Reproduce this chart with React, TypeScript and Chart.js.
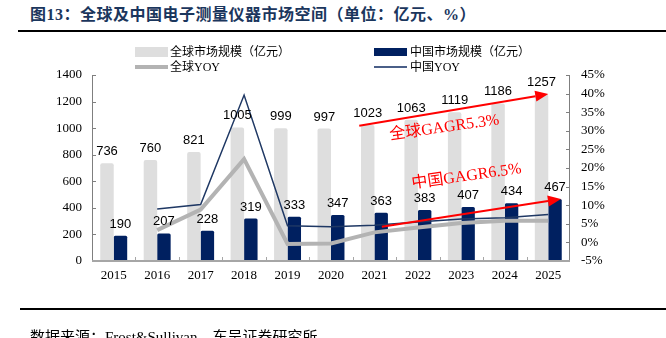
import React, { useEffect, useRef } from "react";
import { Chart, registerables } from "chart.js";

Chart.register(...registerables);

// ---------- data ----------
const years = ["2015", "2016", "2017", "2018", "2019", "2020", "2021", "2022", "2023", "2024", "2025"];
const globalMarket = [736, 760, 821, 1005, 999, 997, 1023, 1063, 1119, 1186, 1257];
const chinaMarket = [190, 207, 228, 319, 333, 347, 363, 383, 407, 434, 467];
const globalYoy = [null, 3.3, 8.8, 22.4, -0.4, -0.3, 2.7, 4.0, 5.2, 5.8, 5.8];
const chinaYoy = [null, 9.0, 10.2, 39.6, 4.5, 4.2, 4.6, 5.5, 6.3, 6.6, 7.5];
const leftTicks = { min: 0, max: 1400, step: 200 };
const rightTicks = { min: -5, max: 45, step: 5 };

// annotation arrows (category index, left-axis value)
const gagrArrows = [
  { x0: 5.65, y0: 1018, x1: 10.0, y1: 1257 },
  { x0: 6.17, y0: 258, x1: 10.29, y1: 467 },
];
const gagrLabels = [
  { text: "全球GAGR5.3%", x: 7.61, y: 1003, angle: -8 },
  { text: "中国GAGR6.5%", x: 8.12, y: 636, angle: -8 },
];

const TITLE = "图13：全球及中国电子测量仪器市场空间（单位：亿元、%）";
const SOURCE = "数据来源：Frost&Sullivan，东吴证券研究所";
const LEGEND = ["全球市场规模（亿元）", "中国市场规模（亿元）", "全球YOY", "中国YOY"];

const GRAY_BAR = "#dedede";
const NAVY_BAR = "#002060";
const GRAY_LINE = "#b3b3b3";
const NAVY_LINE = "#1f3864";

const serif = '"Liberation Serif", "Noto Sans CJK SC", serif';

const decorPlugin = {
  id: "decor",
  afterDatasetsDraw(chart: any) {
    const { ctx, chartArea, scales } = chart;
    const { left, right, top, bottom } = chartArea;
    ctx.save();
    const line = (x0: number, y0: number, x1: number, y1: number) => {
      ctx.beginPath();
      ctx.moveTo(x0, y0);
      ctx.lineTo(x1, y1);
      ctx.stroke();
    };
    // vertical axes
    ctx.strokeStyle = "#7f7f7f";
    ctx.lineWidth = 1;
    line(left + 0.5, top, left + 0.5, bottom);
    line(right - 0.5, top, right - 0.5, bottom);
    const ys = scales.y;
    for (let v = leftTicks.min; v <= leftTicks.max; v += leftTicks.step) {
      const yy = Math.round(ys.getPixelForValue(v)) + 0.5;
      line(left, yy, left + 4, yy);
    }
    const y1s = scales.y1;
    for (let v = rightTicks.min; v <= rightTicks.max; v += rightTicks.step) {
      const yy = Math.round(y1s.getPixelForValue(v)) + 0.5;
      line(right - 4, yy, right, yy);
    }
    // x axis
    ctx.strokeStyle = "#a6a6a6";
    ctx.lineWidth = 2;
    line(left, bottom, right, bottom);
    ctx.lineWidth = 1;
    const n = years.length;
    for (let i = 1; i < n; i++) {
      const xx = Math.round(left + (i * (right - left)) / n) + 0.5;
      line(xx, bottom, xx, bottom - 4);
    }

    // value labels
    ctx.fillStyle = "#000";
    ctx.font = '13px "Liberation Sans", Arial, sans-serif';
    ctx.textAlign = "center";
    ctx.textBaseline = "alphabetic";
    [0, 1].forEach((di) => {
      const meta = chart.getDatasetMeta(di);
      const vals = chart.data.datasets[di].data;
      meta.data.forEach((bar: any, i: number) => {
        ctx.fillText(String(vals[i]), bar.x, bar.y - 8);
      });
    });

    // annotations
    const xs = scales.x;
    ctx.strokeStyle = "#ff0000";
    ctx.fillStyle = "#ff0000";
    ctx.lineWidth = 2;
    gagrArrows.forEach((a) => {
      const px0 = xs.getPixelForValue(a.x0);
      const py0 = ys.getPixelForValue(a.y0);
      const px1 = xs.getPixelForValue(a.x1);
      const py1 = ys.getPixelForValue(a.y1);
      const ang = Math.atan2(py1 - py0, px1 - px0);
      const hl = 13;
      const hw = 5.5;
      const bx = px1 - hl * Math.cos(ang);
      const by = py1 - hl * Math.sin(ang);
      line(px0, py0, bx, by);
      ctx.beginPath();
      ctx.moveTo(px1, py1);
      ctx.lineTo(bx + hw * Math.sin(ang), by - hw * Math.cos(ang));
      ctx.lineTo(bx - hw * Math.sin(ang), by + hw * Math.cos(ang));
      ctx.closePath();
      ctx.fill();
    });
    ctx.font = "16px " + serif;
    ctx.textBaseline = "middle";
    gagrLabels.forEach((l) => {
      const px = xs.getPixelForValue(l.x);
      const py = ys.getPixelForValue(l.y);
      ctx.save();
      ctx.translate(px, py);
      ctx.rotate((l.angle * Math.PI) / 180);
      ctx.fillText(l.text, 0, 0);
      ctx.restore();
    });
    ctx.restore();
  },
};

export default function App() {
  const canvasRef = useRef<HTMLCanvasElement | null>(null);

  useEffect(() => {
    if (!canvasRef.current) return;
    const tickFont = { family: serif, size: 13 };
    const chart = new Chart(canvasRef.current, {
      type: "bar",
      data: {
        labels: years,
        datasets: [
          {
            type: "bar",
            label: LEGEND[0],
            data: globalMarket,
            backgroundColor: GRAY_BAR,
            yAxisID: "y",
            order: 2,
            borderRadius: { topLeft: 2, topRight: 2, bottomLeft: 0, bottomRight: 0 },
            borderSkipped: false,
          },
          {
            type: "bar",
            label: LEGEND[1],
            data: chinaMarket,
            backgroundColor: NAVY_BAR,
            yAxisID: "y",
            order: 2,
            borderRadius: { topLeft: 1.5, topRight: 1.5, bottomLeft: 0, bottomRight: 0 },
            borderSkipped: false,
          },
          {
            type: "line",
            label: LEGEND[2],
            data: globalYoy as any,
            borderColor: GRAY_LINE,
            backgroundColor: GRAY_LINE,
            borderWidth: 4,
            pointRadius: 0,
            yAxisID: "y1",
            order: 1,
            tension: 0,
          },
          {
            type: "line",
            label: LEGEND[3],
            data: chinaYoy as any,
            borderColor: NAVY_LINE,
            backgroundColor: NAVY_LINE,
            borderWidth: 1.5,
            pointRadius: 0,
            yAxisID: "y1",
            order: 0,
            tension: 0,
          },
        ],
      },
      options: {
        responsive: false,
        maintainAspectRatio: false,
        animation: false,
        devicePixelRatio: 1,
        layout: { padding: { top: 75, left: 0, right: 0, bottom: 0 } },
        plugins: {
          legend: { display: false },
          tooltip: { enabled: false },
          title: { display: false },
        },
        datasets: {
          bar: { categoryPercentage: 0.62, barPercentage: 1 },
        },
        scales: {
          x: {
            grid: { display: false, drawTicks: false },
            border: { display: false },
            ticks: { font: tickFont, color: "#000", padding: 7, maxRotation: 0, autoSkip: false },
            afterFit: (s: any) => {
              s.height = 77;
            },
          },
          y: {
            position: "left",
            min: leftTicks.min,
            max: leftTicks.max,
            grid: { display: false, drawTicks: false },
            border: { display: false },
            ticks: {
              stepSize: leftTicks.step,
              font: tickFont,
              color: "#000",
              padding: 10,
              callback: (v: any) => String(v),
            },
            afterFit: (s: any) => {
              s.width = 92;
            },
          },
          y1: {
            position: "right",
            min: rightTicks.min,
            max: rightTicks.max,
            grid: { display: false, drawTicks: false },
            border: { display: false },
            ticks: {
              stepSize: rightTicks.step,
              font: tickFont,
              color: "#000",
              padding: 11,
              callback: (v: any) => v + "%",
            },
            afterFit: (s: any) => {
              s.width = 96;
            },
          },
        },
      } as any,
      plugins: [decorPlugin],
    });
    return () => chart.destroy();
  }, []);

  const abs = (style: React.CSSProperties): React.CSSProperties => ({ position: "absolute", ...style });
  const legendText: React.CSSProperties = {
    fontFamily: serif,
    fontSize: 12,
    lineHeight: "16px",
    color: "#000",
    whiteSpace: "nowrap",
  };

  return (
    <div style={abs({ left: 0, top: 0, width: 666, height: 338, overflow: "hidden", background: "#fff" })}>
      <div
        style={abs({
          left: 30,
          top: 6,
          fontFamily: serif,
          fontWeight: "bold",
          fontSize: 16,
          lineHeight: "17px",
          letterSpacing: "0.5px",
          color: "#1b365d",
          whiteSpace: "nowrap",
        })}
      >
        {TITLE}
      </div>
      <div style={abs({ left: 18, top: 30, width: 648, height: 2, background: "#000" })} />
      <canvas ref={canvasRef} width={666} height={338} style={abs({ left: 0, top: 0, width: 666, height: 338 })} />
      {/* legend */}
      <div style={abs({ left: 135, top: 47, width: 33, height: 10, background: GRAY_BAR })} />
      <div style={abs({ left: 170, top: 44, ...legendText })}>{LEGEND[0]}</div>
      <div style={abs({ left: 374, top: 48, width: 33, height: 8, background: NAVY_BAR })} />
      <div style={abs({ left: 410, top: 44, ...legendText })}>{LEGEND[1]}</div>
      <div style={abs({ left: 135, top: 65, width: 33, height: 4, background: GRAY_LINE })} />
      <div style={abs({ left: 170, top: 59, ...legendText })}>{LEGEND[2]}</div>
      <div style={abs({ left: 374, top: 66, width: 33, height: 2, background: "#4a5f88" })} />
      <div style={abs({ left: 410, top: 59, ...legendText })}>{LEGEND[3]}</div>
      {/* source */}
      <div style={abs({ left: 20, top: 308, width: 646, height: 2, background: "#000" })} />
      <div
        style={abs({
          left: 30,
          top: 329,
          fontFamily: serif,
          fontSize: 15,
          lineHeight: "16px",
          color: "#000",
          whiteSpace: "nowrap",
        })}
      >
        {SOURCE}
      </div>
    </div>
  );
}
